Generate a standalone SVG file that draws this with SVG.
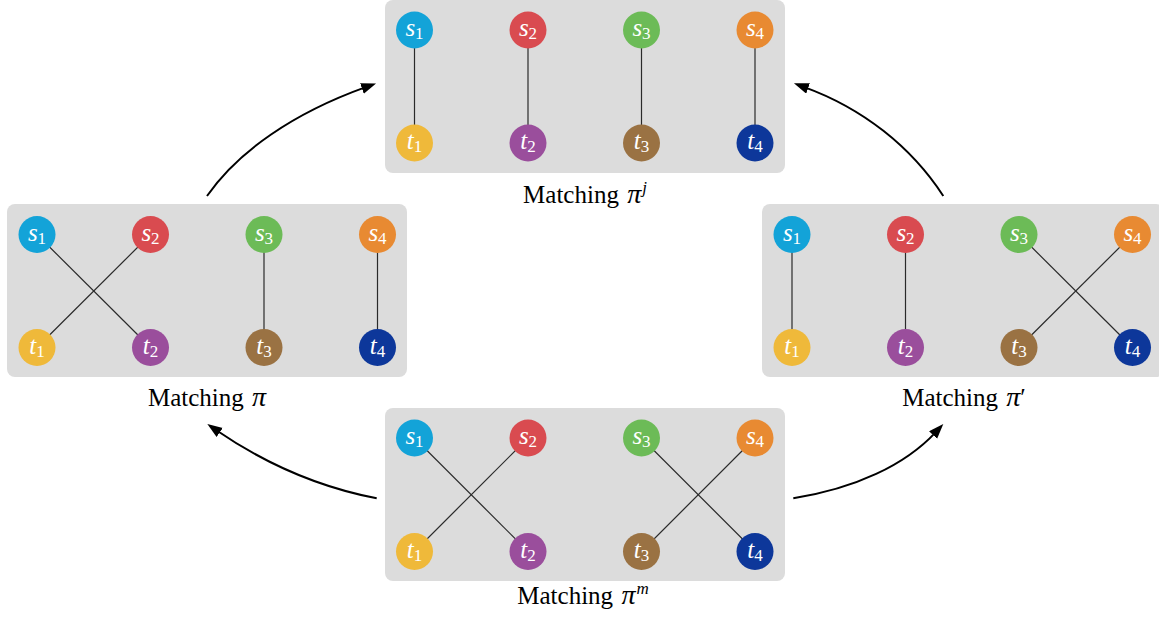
<svg xmlns="http://www.w3.org/2000/svg" width="1159" height="621" viewBox="0 0 1159 621">
<style>
.panel{fill:#dcdcdc;stroke:none}
.edge{stroke:#2a2a2a;stroke-width:1.2;fill:none}
.arrow{stroke:#000;stroke-width:2;fill:none;marker-end:url(#ah)}
.nl{font-family:"Liberation Serif","Times New Roman",Times,serif;font-size:25px;font-style:italic;fill:#fff;text-anchor:middle}
.sub{font-size:17px;font-style:normal}
.cap{font-family:"Liberation Serif","Times New Roman",Times,serif;font-size:25px;fill:#000;text-anchor:middle}
.it{font-style:italic;font-size:28px}
.sup{font-size:17px;font-style:italic}
.c1{fill:#13a3d8}.c2{fill:#d94b50}.c3{fill:#6cbb57}.c4{fill:#e88a32}
.d1{fill:#efb93a}.d2{fill:#9a4e9c}.d3{fill:#9a7243}.d4{fill:#0d379a}
</style>
<defs>
<marker id="ah" markerUnits="userSpaceOnUse" markerWidth="16" markerHeight="12" refX="4" refY="5.5" orient="auto">
<path d="M0,0 L15,5.5 L0,11 z" fill="#000"/>
</marker>
</defs>

<g id="panels">
<rect id="panel-top" class="panel" x="385" y="0" width="400" height="173" rx="8"/>
<rect id="panel-left" class="panel" x="7" y="204" width="400" height="173" rx="8"/>
<rect id="panel-right" class="panel" x="762" y="204" width="402" height="173" rx="8"/>
<rect id="panel-bottom" class="panel" x="385" y="408" width="400" height="173" rx="8"/>
</g>

<g id="connectors">
<line class="edge" x1="414.5" y1="30" x2="414.5" y2="143"/>
<line class="edge" x1="528" y1="30" x2="528" y2="143"/>
<line class="edge" x1="641.5" y1="30" x2="641.5" y2="143"/>
<line class="edge" x1="755" y1="30" x2="755" y2="143"/>
<line class="edge" x1="37" y1="234.5" x2="150.5" y2="347.5"/>
<line class="edge" x1="150.5" y1="234.5" x2="37" y2="347.5"/>
<line class="edge" x1="264" y1="234.5" x2="264" y2="347.5"/>
<line class="edge" x1="377.5" y1="234.5" x2="377.5" y2="347.5"/>
<line class="edge" x1="792" y1="234.5" x2="792" y2="347.5"/>
<line class="edge" x1="905.5" y1="234.5" x2="905.5" y2="347.5"/>
<line class="edge" x1="1019" y1="234.5" x2="1132.5" y2="347.5"/>
<line class="edge" x1="1132.5" y1="234.5" x2="1019" y2="347.5"/>
<line class="edge" x1="414.5" y1="438" x2="528" y2="551.5"/>
<line class="edge" x1="528" y1="438" x2="414.5" y2="551.5"/>
<line class="edge" x1="641.5" y1="438" x2="755" y2="551.5"/>
<line class="edge" x1="755" y1="438" x2="641.5" y2="551.5"/>
<path class="arrow" d="M207,196 C238.2,151.2 293.7,113 365.7,87.1"/>
<path class="arrow" d="M943.3,196 C910.9,146.3 862.3,108.2 804.3,87.1"/>
<path class="arrow" d="M376.7,498.3 C321.4,487.6 265.3,463.8 216.4,430.2"/>
<path class="arrow" d="M793.3,498.3 C855.1,488.4 904.9,465.3 935.8,432.1"/>
</g>

<g id="top-nodes">
<g id="top-s1"><circle class="c1" cx="414.5" cy="30" r="18.5"/><text class="nl" x="414.5" y="36">s<tspan class="sub" dy="3">1</tspan></text></g>
<g id="top-s2"><circle class="c2" cx="528" cy="30" r="18.5"/><text class="nl" x="528" y="36">s<tspan class="sub" dy="3">2</tspan></text></g>
<g id="top-s3"><circle class="c3" cx="641.5" cy="30" r="18.5"/><text class="nl" x="641.5" y="36">s<tspan class="sub" dy="3">3</tspan></text></g>
<g id="top-s4"><circle class="c4" cx="755" cy="30" r="18.5"/><text class="nl" x="755" y="36">s<tspan class="sub" dy="3">4</tspan></text></g>
<g id="top-t1"><circle class="d1" cx="414.5" cy="143" r="18.5"/><text class="nl" x="414.5" y="149">t<tspan class="sub" dy="3">1</tspan></text></g>
<g id="top-t2"><circle class="d2" cx="528" cy="143" r="18.5"/><text class="nl" x="528" y="149">t<tspan class="sub" dy="3">2</tspan></text></g>
<g id="top-t3"><circle class="d3" cx="641.5" cy="143" r="18.5"/><text class="nl" x="641.5" y="149">t<tspan class="sub" dy="3">3</tspan></text></g>
<g id="top-t4"><circle class="d4" cx="755" cy="143" r="18.5"/><text class="nl" x="755" y="149">t<tspan class="sub" dy="3">4</tspan></text></g>
</g>

<g id="left-nodes">
<g id="left-s1"><circle class="c1" cx="37" cy="234.5" r="18.5"/><text class="nl" x="37" y="240.5">s<tspan class="sub" dy="3">1</tspan></text></g>
<g id="left-s2"><circle class="c2" cx="150.5" cy="234.5" r="18.5"/><text class="nl" x="150.5" y="240.5">s<tspan class="sub" dy="3">2</tspan></text></g>
<g id="left-s3"><circle class="c3" cx="264" cy="234.5" r="18.5"/><text class="nl" x="264" y="240.5">s<tspan class="sub" dy="3">3</tspan></text></g>
<g id="left-s4"><circle class="c4" cx="377.5" cy="234.5" r="18.5"/><text class="nl" x="377.5" y="240.5">s<tspan class="sub" dy="3">4</tspan></text></g>
<g id="left-t1"><circle class="d1" cx="37" cy="347.5" r="18.5"/><text class="nl" x="37" y="353.5">t<tspan class="sub" dy="3">1</tspan></text></g>
<g id="left-t2"><circle class="d2" cx="150.5" cy="347.5" r="18.5"/><text class="nl" x="150.5" y="353.5">t<tspan class="sub" dy="3">2</tspan></text></g>
<g id="left-t3"><circle class="d3" cx="264" cy="347.5" r="18.5"/><text class="nl" x="264" y="353.5">t<tspan class="sub" dy="3">3</tspan></text></g>
<g id="left-t4"><circle class="d4" cx="377.5" cy="347.5" r="18.5"/><text class="nl" x="377.5" y="353.5">t<tspan class="sub" dy="3">4</tspan></text></g>
</g>

<g id="right-nodes">
<g id="right-s1"><circle class="c1" cx="792" cy="234.5" r="18.5"/><text class="nl" x="792" y="240.5">s<tspan class="sub" dy="3">1</tspan></text></g>
<g id="right-s2"><circle class="c2" cx="905.5" cy="234.5" r="18.5"/><text class="nl" x="905.5" y="240.5">s<tspan class="sub" dy="3">2</tspan></text></g>
<g id="right-s3"><circle class="c3" cx="1019" cy="234.5" r="18.5"/><text class="nl" x="1019" y="240.5">s<tspan class="sub" dy="3">3</tspan></text></g>
<g id="right-s4"><circle class="c4" cx="1132.5" cy="234.5" r="18.5"/><text class="nl" x="1132.5" y="240.5">s<tspan class="sub" dy="3">4</tspan></text></g>
<g id="right-t1"><circle class="d1" cx="792" cy="347.5" r="18.5"/><text class="nl" x="792" y="353.5">t<tspan class="sub" dy="3">1</tspan></text></g>
<g id="right-t2"><circle class="d2" cx="905.5" cy="347.5" r="18.5"/><text class="nl" x="905.5" y="353.5">t<tspan class="sub" dy="3">2</tspan></text></g>
<g id="right-t3"><circle class="d3" cx="1019" cy="347.5" r="18.5"/><text class="nl" x="1019" y="353.5">t<tspan class="sub" dy="3">3</tspan></text></g>
<g id="right-t4"><circle class="d4" cx="1132.5" cy="347.5" r="18.5"/><text class="nl" x="1132.5" y="353.5">t<tspan class="sub" dy="3">4</tspan></text></g>
</g>

<g id="bottom-nodes">
<g id="bottom-s1"><circle class="c1" cx="414.5" cy="438" r="18.5"/><text class="nl" x="414.5" y="444">s<tspan class="sub" dy="3">1</tspan></text></g>
<g id="bottom-s2"><circle class="c2" cx="528" cy="438" r="18.5"/><text class="nl" x="528" y="444">s<tspan class="sub" dy="3">2</tspan></text></g>
<g id="bottom-s3"><circle class="c3" cx="641.5" cy="438" r="18.5"/><text class="nl" x="641.5" y="444">s<tspan class="sub" dy="3">3</tspan></text></g>
<g id="bottom-s4"><circle class="c4" cx="755" cy="438" r="18.5"/><text class="nl" x="755" y="444">s<tspan class="sub" dy="3">4</tspan></text></g>
<g id="bottom-t1"><circle class="d1" cx="414.5" cy="551.5" r="18.5"/><text class="nl" x="414.5" y="557.5">t<tspan class="sub" dy="3">1</tspan></text></g>
<g id="bottom-t2"><circle class="d2" cx="528" cy="551.5" r="18.5"/><text class="nl" x="528" y="557.5">t<tspan class="sub" dy="3">2</tspan></text></g>
<g id="bottom-t3"><circle class="d3" cx="641.5" cy="551.5" r="18.5"/><text class="nl" x="641.5" y="557.5">t<tspan class="sub" dy="3">3</tspan></text></g>
<g id="bottom-t4"><circle class="d4" cx="755" cy="551.5" r="18.5"/><text class="nl" x="755" y="557.5">t<tspan class="sub" dy="3">4</tspan></text></g>
</g>

<g id="captions">
<text id="cap-top" class="cap" x="585" y="203">Matching <tspan class="it" dx="2">π</tspan><tspan class="sup" dx="1" dy="-10">j</tspan></text>
<text id="cap-left" class="cap" x="207" y="406">Matching <tspan class="it" dx="2">π</tspan></text>
<text id="cap-right" class="cap" x="964" y="406">Matching <tspan class="it" dx="2">π</tspan>′</text>
<text id="cap-bottom" class="cap" x="583" y="604">Matching <tspan class="it" dx="2">π</tspan><tspan class="sup" dx="1" dy="-10">m</tspan></text>
</g>
</svg>
